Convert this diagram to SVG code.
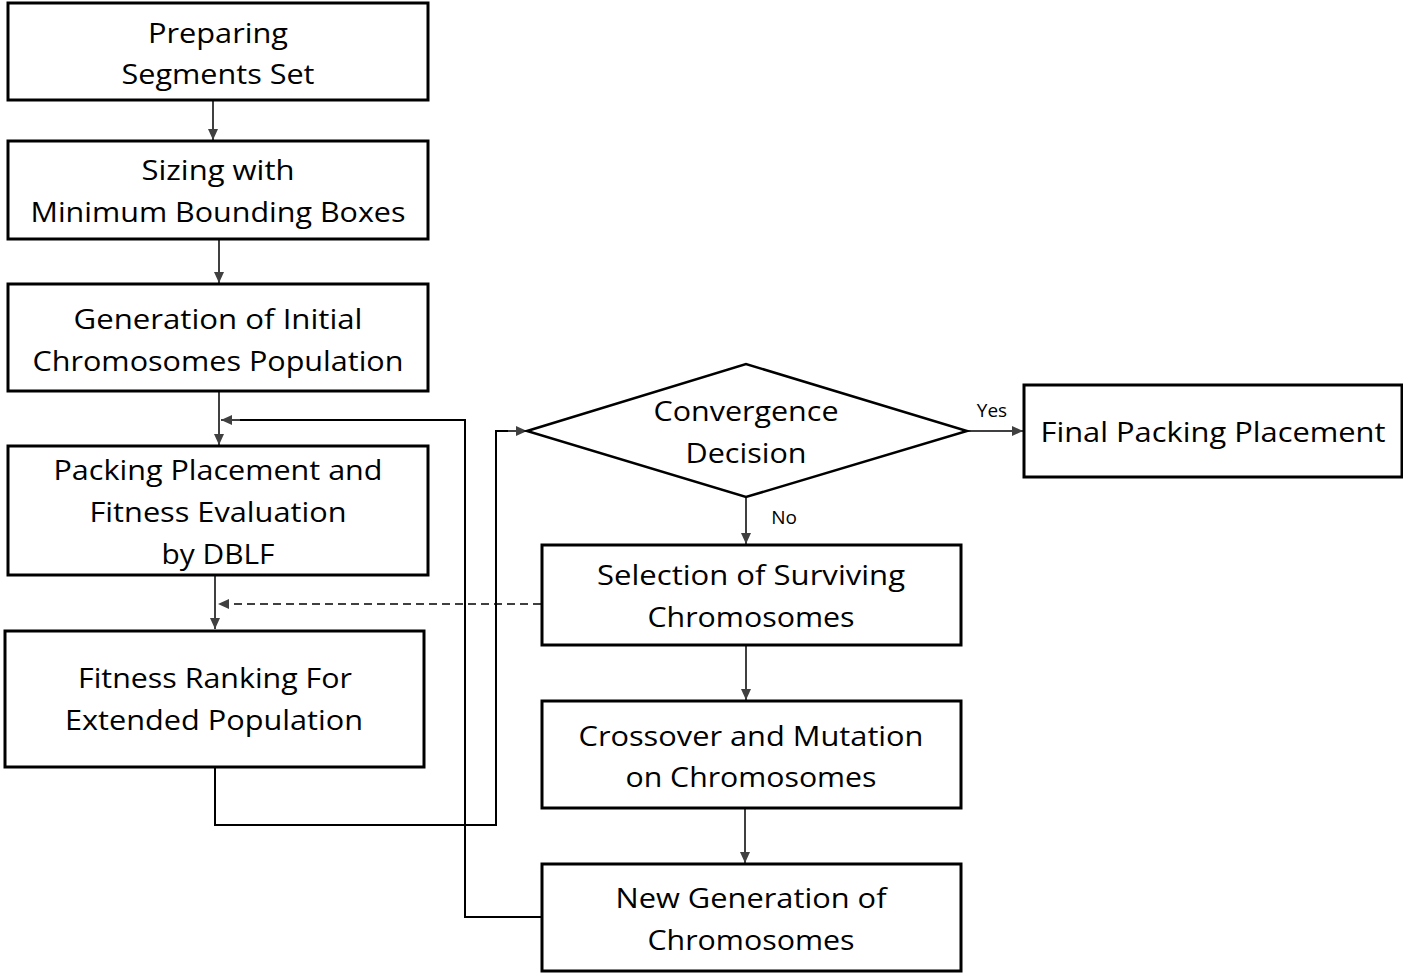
<svg xmlns="http://www.w3.org/2000/svg" width="1403" height="973" viewBox="0 0 1403 973">
<defs>
<style>
.box{fill:#fff;stroke:#000;stroke-width:3}
.dia{fill:#fff;stroke:#000;stroke-width:2.5}
.t{font-family:"Open Sans","Liberation Sans",Arial,sans-serif;font-size:28px;fill:#000;text-anchor:middle}
.s{font-family:"Open Sans","Liberation Sans",Arial,sans-serif;font-size:19px;fill:#000;text-anchor:middle}
.a{fill:none;stroke:#404040;stroke-width:2}
.l{fill:none;stroke:#000;stroke-width:2}
.d{fill:none;stroke:#404040;stroke-width:2;stroke-dasharray:8,5}
</style>
<marker id="ah" markerUnits="userSpaceOnUse" markerWidth="12" markerHeight="12" viewBox="0 0 12 12" refX="11" refY="6" orient="auto">
<path d="M0,1 L11,6 L0,11 Z" fill="#404040"/>
</marker>
</defs>
<rect width="1403" height="973" fill="#fff"/>
<g id="connectors">
<path class="a" d="M213,100 V140" marker-end="url(#ah)"/>
<path class="a" d="M219,239 V283" marker-end="url(#ah)"/>
<path class="a" d="M219,391 V445" marker-end="url(#ah)"/>
<path class="l" d="M542,917 H465 V420 H235"/>
<path class="a" d="M240,420 H221" marker-end="url(#ah)"/>
<path class="a" d="M215,575 V629" marker-end="url(#ah)"/>
<path class="d" d="M541,604 H218" marker-end="url(#ah)"/>
<path class="l" d="M215,767 V825 H496 V431 H510"/>
<path class="a" d="M508,431 H527" marker-end="url(#ah)"/>
<path class="a" d="M967,431 H1023" marker-end="url(#ah)"/>
<path class="a" d="M746,497 V544" marker-end="url(#ah)"/>
<path class="a" d="M746,645 V700" marker-end="url(#ah)"/>
<path class="a" d="M745,808 V863" marker-end="url(#ah)"/>
<text class="s" x="992" y="417">Yes</text>
<text class="s" x="784" y="524">No</text>
</g>
<g id="n1">
<rect class="box" x="8" y="3" width="420" height="97"/>
<text class="t" x="218" y="43" textLength="140" lengthAdjust="spacingAndGlyphs">Preparing</text>
<text class="t" x="218" y="84" textLength="193" lengthAdjust="spacingAndGlyphs">Segments Set</text>
</g>
<g id="n2">
<rect class="box" x="8" y="141" width="420" height="98"/>
<text class="t" x="218" y="180" textLength="153" lengthAdjust="spacingAndGlyphs">Sizing with</text>
<text class="t" x="218" y="222" textLength="375" lengthAdjust="spacingAndGlyphs">Minimum Bounding Boxes</text>
</g>
<g id="n3">
<rect class="box" x="8" y="284" width="420" height="107"/>
<text class="t" x="218" y="329" textLength="289" lengthAdjust="spacingAndGlyphs">Generation of Initial</text>
<text class="t" x="218" y="371" textLength="371" lengthAdjust="spacingAndGlyphs">Chromosomes Population</text>
</g>
<g id="n4">
<rect class="box" x="8" y="446" width="420" height="129"/>
<text class="t" x="218" y="480" textLength="329" lengthAdjust="spacingAndGlyphs">Packing Placement and</text>
<text class="t" x="218" y="522" textLength="257" lengthAdjust="spacingAndGlyphs">Fitness Evaluation</text>
<text class="t" x="218" y="564" textLength="113" lengthAdjust="spacingAndGlyphs">by DBLF</text>
</g>
<g id="n5">
<rect class="box" x="5" y="631" width="419" height="136"/>
<text class="t" x="215" y="688" textLength="274" lengthAdjust="spacingAndGlyphs">Fitness Ranking For</text>
<text class="t" x="214" y="730" textLength="298" lengthAdjust="spacingAndGlyphs">Extended Population</text>
</g>
<g id="n6">
<polygon class="dia" points="527,431 746,364 967,431 746,497"/>
<text class="t" x="746" y="421" textLength="185" lengthAdjust="spacingAndGlyphs">Convergence</text>
<text class="t" x="746" y="463" textLength="121" lengthAdjust="spacingAndGlyphs">Decision</text>
</g>
<g id="n7">
<rect class="box" x="1024" y="385" width="378" height="92"/>
<text class="t" x="1213" y="442" textLength="345" lengthAdjust="spacingAndGlyphs">Final Packing Placement</text>
</g>
<g id="n8">
<rect class="box" x="542" y="545" width="419" height="100"/>
<text class="t" x="751" y="585" textLength="308" lengthAdjust="spacingAndGlyphs">Selection of Surviving</text>
<text class="t" x="751" y="627" textLength="207" lengthAdjust="spacingAndGlyphs">Chromosomes</text>
</g>
<g id="n9">
<rect class="box" x="542" y="701" width="419" height="107"/>
<text class="t" x="751" y="746" textLength="345" lengthAdjust="spacingAndGlyphs">Crossover and Mutation</text>
<text class="t" x="751" y="787" textLength="251" lengthAdjust="spacingAndGlyphs">on Chromosomes</text>
</g>
<g id="n10">
<rect class="box" x="542" y="864" width="419" height="107"/>
<text class="t" x="751" y="908" textLength="271" lengthAdjust="spacingAndGlyphs">New Generation of</text>
<text class="t" x="751" y="950" textLength="207" lengthAdjust="spacingAndGlyphs">Chromosomes</text>
</g>
</svg>
